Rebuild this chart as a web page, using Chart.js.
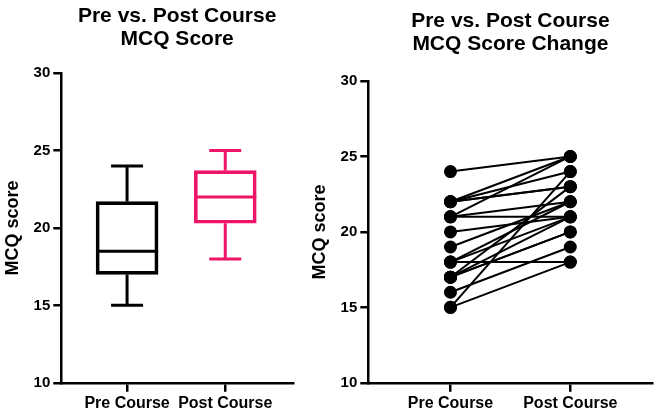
<!DOCTYPE html>
<html>
<head>
<meta charset="utf-8">
<script src="https://cdn.jsdelivr.net/npm/chart.js@4"></script>
<style>
  body { margin: 0; background: #fff; }
  #wrap { position: relative; width: 660px; height: 415px; }
  #left { position: absolute; left: 0; top: 0; }
  #right { position: absolute; left: 305px; top: 0; }
</style>
</head>
<body>
<div id="wrap">
  <canvas id="left" width="310" height="415"></canvas>
  <canvas id="right" width="355" height="415"></canvas>
</div>
<script>
// categories
const groups = ["Pre Course", "Post Course"];
const boxColors = ["#000000", "#EE1467"];

// box plot summary, [pre, post]
const boxMin = [15, 18];
const boxQ1 = [17, 20.3];
const boxMedian = [18.5, 22];
const boxQ3 = [21.7, 23.7];
const boxMax = [24, 25];

// paired scores per student
const preScores  = [24, 22, 22, 22, 22, 21, 21, 21, 20, 19, 18, 18, 18, 17, 17, 17, 17, 16, 15, 15];
const postScores = [25, 25, 24, 23, 23, 25, 21, 22, 21, 22, 18, 22, 21, 23, 21, 20, 20, 19, 24, 18];

const yTicks = [10, 15, 20, 25, 30];

const FONT = "'Liberation Sans', Arial, Helvetica, sans-serif";

function axes(xMin, xMax) {
    return {
        x: {
            type: "linear",
            min: xMin,
            max: xMax,
            offset: false,
            afterBuildTicks: (s) => { s.ticks = groups.map((g, i) => ({ value: i })); },
            ticks: {
                callback: (v) => groups[v] || "",
                color: "#000",
                font: { family: FONT, size: 16, weight: "bold" },
                padding: 2,
                maxRotation: 0,
                autoSkip: false
            },
            grid: { display: true, offset: false, drawOnChartArea: false, drawTicks: true, tickLength: 9, color: "#000", lineWidth: 2.5 },
            border: { color: "#000", width: 2.5 }
        },
        y: {
            min: 10,
            max: 30,
            afterBuildTicks: (s) => { s.ticks = yTicks.map(v => ({ value: v })); },
            ticks: {
                color: "#000",
                font: { family: FONT, size: 15, weight: "bold" },
                padding: 3
            },
            grid: { display: true, drawOnChartArea: false, drawTicks: true, tickLength: 8, color: "#000", lineWidth: 2.5 },
            border: { color: "#000", width: 2.5 },
            title: {
                display: true,
                text: "MCQ score",
                color: "#000",
                font: { family: FONT, size: 18, weight: "bold" },
                padding: { top: 0, bottom: 7 }
            }
        }
    };
}

function titleOpts(lines, top, bottom) {
    return {
        display: true,
        text: lines,
        fullSize: false,
        color: "#000",
        font: { family: FONT, size: 21, weight: "bold", lineHeight: 1.12 },
        padding: { top: top, bottom: bottom }
    };
}

// median line and whiskers, drawn from the scales
const whiskers = {
    id: "whiskers",
    afterDatasetsDraw(chart) {
        const { ctx, scales: { x, y } } = chart;
        const half = 31, cap = 16;
        ctx.save();
        ctx.lineWidth = 3;
        groups.forEach((g, i) => {
            const cx = x.getPixelForValue(i);
            ctx.strokeStyle = boxColors[i];
            ctx.beginPath();
            ctx.moveTo(cx - half, y.getPixelForValue(boxMedian[i]));
            ctx.lineTo(cx + half, y.getPixelForValue(boxMedian[i]));
            ctx.moveTo(cx, y.getPixelForValue(boxQ3[i]));
            ctx.lineTo(cx, y.getPixelForValue(boxMax[i]));
            ctx.moveTo(cx - cap, y.getPixelForValue(boxMax[i]));
            ctx.lineTo(cx + cap, y.getPixelForValue(boxMax[i]));
            ctx.moveTo(cx, y.getPixelForValue(boxQ1[i]));
            ctx.lineTo(cx, y.getPixelForValue(boxMin[i]));
            ctx.moveTo(cx - cap, y.getPixelForValue(boxMin[i]));
            ctx.lineTo(cx + cap, y.getPixelForValue(boxMin[i]));
            ctx.stroke();
        });
        ctx.restore();
    }
};

new Chart(document.getElementById("left"), {
    type: "bar",
    data: {
        datasets: [{
            data: groups.map((g, i) => ({ x: i, y: [boxQ1[i], boxQ3[i]] })),
            backgroundColor: "rgba(0,0,0,0)",
            borderColor: boxColors,
            borderWidth: 3,
            borderSkipped: false,
            barThickness: 62
        }]
    },
    options: {
        responsive: false,
        animation: false,
        layout: { padding: { left: 2, right: 17, top: 0, bottom: 0 } },
        plugins: {
            legend: { display: false },
            tooltip: { enabled: false },
            title: titleOpts(["Pre vs. Post Course", "MCQ Score"], 4, 22)
        },
        scales: axes(-0.67, 1.69)
    },
    plugins: [whiskers]
});

new Chart(document.getElementById("right"), {
    type: "scatter",
    data: {
        datasets: preScores.map((p, i) => ({
            data: [{ x: 0, y: p }, { x: 1, y: postScores[i] }],
            showLine: true,
            borderColor: "#000",
            backgroundColor: "#000",
            borderWidth: 2,
            pointRadius: 5.5,
            clip: false
        }))
    },
    options: {
        responsive: false,
        animation: false,
        layout: { padding: { left: 4, right: 3, top: 0, bottom: 0 } },
        plugins: {
            legend: { display: false },
            tooltip: { enabled: false },
            title: titleOpts(["Pre vs. Post Course", "MCQ Score Change"], 9, 25)
        },
        scales: axes(-0.686, 1.686)
    }
});
</script>
</body>
</html>
